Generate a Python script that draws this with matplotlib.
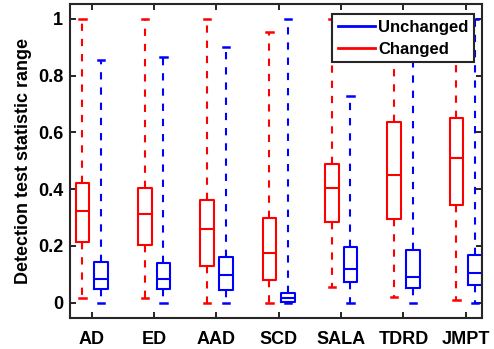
import numpy as np
import matplotlib
matplotlib.use('Agg')
import matplotlib.pyplot as plt
from matplotlib.lines import Line2D

plt.rcParams['font.family'] = ['Liberation Sans', 'DejaVu Sans']
plt.rcParams['font.weight'] = 'bold'

methods = ['AD', 'ED', 'AAD', 'SCD', 'SALA', 'TDRD', 'JMPT']

# box stats: (whisker low, q1, median, q3, whisker high)
changed = [
    (0.018, 0.215, 0.324, 0.421, 1.0),
    (0.018, 0.204, 0.312, 0.403, 1.0),
    (0.0, 0.128, 0.259, 0.361, 1.0),
    (0.0, 0.079, 0.175, 0.297, 0.953),
    (0.054, 0.285, 0.405, 0.487, 1.0),
    (0.019, 0.293, 0.450, 0.637, 1.0),
    (0.009, 0.343, 0.509, 0.650, 1.0),
]
unchanged = [
    (0.0, 0.049, 0.085, 0.143, 0.854),
    (0.0, 0.049, 0.085, 0.140, 0.864),
    (0.0, 0.046, 0.097, 0.162, 0.900),
    (0.0, 0.003, 0.017, 0.033, 1.0),
    (0.0, 0.072, 0.117, 0.195, 0.729),
    (0.0, 0.053, 0.089, 0.185, 1.0),
    (0.0, 0.062, 0.103, 0.168, 1.0),
]

def to_stats(rows):
    return [dict(whislo=r[0], q1=r[1], med=r[2], q3=r[3], whishi=r[4], fliers=[])
            for r in rows]

fig = plt.figure(figsize=(4.94, 3.49), dpi=100)
ax = fig.add_axes([0.1417, 0.0888, 0.834, 0.8997])

pos = np.arange(1, len(methods) + 1)
for stats, color, off in [(changed, 'red', -0.15), (unchanged, 'blue', 0.15)]:
    ax.bxp(to_stats(stats), positions=pos + off, widths=0.22,
           showfliers=False, manage_ticks=False,
           boxprops=dict(color=color, linewidth=1.5),
           medianprops=dict(color=color, linewidth=1.5),
           whiskerprops=dict(color=color, linewidth=1.5,
                             linestyle=(0, (3.5, 3.8))),
           capprops=dict(color=color, linewidth=1.8), capwidths=0.1)

ax.set_xlim(0.65, 7.26)
ax.set_ylim(-0.054, 1.052)
ax.set_xticks(pos)
ax.set_xticklabels(methods)
ax.set_yticks([0, 0.2, 0.4, 0.6, 0.8, 1])
ax.set_yticklabels(['0', '0.2', '0.4', '0.6', '0.8', '1'])
ax.tick_params(direction='in', top=True, right=True, labelsize=13,
               width=1.2, length=4)
ax.tick_params(axis='x', pad=9)
ax.tick_params(axis='y', pad=5)
for s in ax.spines.values():
    s.set_linewidth(1.5)
    s.set_color('#262626')
ax.set_ylabel('Detection test statistic range', fontsize=13,
              fontweight='bold', labelpad=4)

handles = [Line2D([], [], color='blue', linewidth=2),
           Line2D([], [], color='red', linewidth=2)]
leg = ax.legend(handles, ['Unchanged', 'Changed'], loc='upper right',
                bbox_to_anchor=(0.981, 0.968), fontsize=12,
                fancybox=False, framealpha=1, edgecolor='#262626',
                borderpad=0.35, labelspacing=0.4, handlelength=2.2,
                handletextpad=0.2, borderaxespad=0)
leg.get_frame().set_linewidth(1.5)

fig.savefig('out.png', dpi=100)
